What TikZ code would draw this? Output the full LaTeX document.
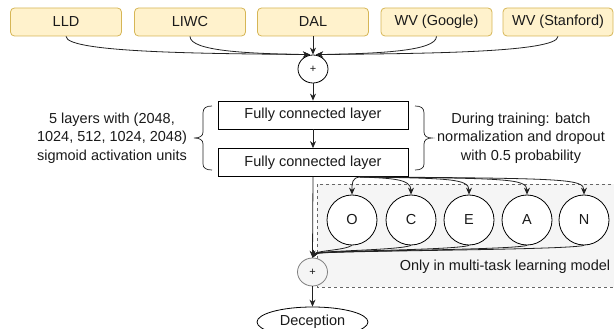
\documentclass[tikz,border=0pt]{standalone}
\usepackage{fontspec}
\setmainfont{Liberation Sans}
\usetikzlibrary{arrows.meta,shapes.geometric}
\definecolor{boxfill}{HTML}{FFF2CC}
\definecolor{boxline}{HTML}{D6B656}
\definecolor{grayfill}{HTML}{F5F5F5}
\definecolor{dashline}{HTML}{666666}
\definecolor{txt}{HTML}{1A1A1A}
\definecolor{edge}{HTML}{222222}
\begin{document}
\begin{tikzpicture}[x=1pt,y=-1pt,
  font=\fontsize{14.5}{18.5}\selectfont, text=txt,
  feat/.style={draw=boxline, fill=boxfill, rounded corners=4pt, minimum width=111pt, minimum height=28pt, inner sep=0pt, line width=0.8pt},
  layer/.style={draw=black, fill=white, minimum width=190pt, minimum height=28pt, inner sep=0pt, line width=0.8pt},
  sumnode/.style={ellipse, draw=black, fill=white, minimum width=30pt, minimum height=28pt, inner sep=0pt, line width=0.8pt, font=\fontsize{11}{13}\selectfont},
  trait/.style={circle, draw=black, fill=white, minimum size=50pt, inner sep=0pt, line width=0.8pt},
  arr/.style={draw=edge, line width=0.8pt, -{Stealth[length=7pt,width=6pt]}},
  bracket/.style={draw=edge, line width=0.7pt},
  region/.style={draw=dashline, fill=grayfill, dash pattern=on 3pt off 3pt, line width=0.6pt}]
\useasboundingbox (0,0) rectangle (614,329);
\clip (0,0) rectangle (614,329);

% multi-task region
\draw[region] (317,184) rectangle (622,287);

% feature boxes
\node[feat] (lld) at (66,22) {LLD};
\node[feat] (liwc) at (190,22) {LIWC};
\node[feat] (dal) at (313,22) {DAL};
\node[feat] (wvg) at (436.5,22) {WV (Google)};
\node[feat, minimum width=110pt] (wvs) at (558,22) {WV (Stanford)};

\node[sumnode] (plus1) at (313,69) {+};
\node[layer] (fc1) at (313,115) {Fully connected layer};
\node[layer] (fc2) at (313,162.5) {Fully connected layer};

\node[align=center] (ltxt) at (112,138) {5 layers with (2048,\\1024, 512, 1024, 2048)\\sigmoid activation units};
\node[align=center] (rtxt) at (521,138) {During training: batch\\normalization and dropout\\with 0.5 probability};

% braces
\draw[bracket] (212,106) .. controls (206,106) and (203,108) .. (203,113) -- (203,132)
  .. controls (203,136) and (200,138) .. (194,138)
  .. controls (200,138) and (203,140) .. (203,144) -- (203,164)
  .. controls (203,168) and (206,170) .. (212,170);
\draw[bracket] (415,106) .. controls (421,106) and (424,108) .. (424,113) -- (424,132)
  .. controls (424,136) and (427,138) .. (432,138)
  .. controls (427,138) and (424,140) .. (424,144) -- (424,164)
  .. controls (424,168) and (421,170) .. (415,170);

% trait nodes
\node[trait] (o) at (352,220) {O};
\node[trait] (c) at (411,220) {C};
\node[trait] (e) at (469,220) {E};
\node[trait] (a) at (527,220) {A};
\node[trait] (n) at (584,220) {N};

\node[sumnode, draw=gray, fill=grayfill] (plus2) at (312.5,272) {+};
\node (mtl) at (505,267) {Only in multi-task learning model};
\node[ellipse, draw=black, fill=white, minimum width=111pt, minimum height=30pt, inner sep=0pt, line width=0.8pt] (dec) at (312.5,322) {Deception};

% top connectors
\coordinate (inl) at ([xshift=-3pt]plus1.north);
\coordinate (inr) at ([xshift=3pt]plus1.north);
\draw[arr] (lld.south) .. controls +(0,17) and +(-90,-1) .. (inl);
\draw[arr] (liwc.south) .. controls +(0,15) and +(-60,-1) .. (inl);
\draw[arr] (dal.south) -- (plus1.north);
\draw[arr] (wvg.south) .. controls +(0,15) and +(60,-1) .. (inr);
\draw[arr] (wvs.south) .. controls +(0,17) and +(90,-1) .. (inr);

\draw[arr] (plus1.south) -- (fc1.north);
\draw[arr] (fc1.south) -- (fc2.north);
\draw[arr] (fc2.south) -- (plus2.north);

% to traits
\coordinate (src) at ([xshift=47pt]fc2.south);
\draw[arr] (src) .. controls +(-8,1) and +(0,-12) .. (o.north);
\draw[arr] (src) .. controls +(31,1.5) and +(0,-16) .. (c.north);
\draw[arr] (src) .. controls +(89,1.5) and +(0,-16) .. (e.north);
\draw[arr] (src) .. controls +(147,1.5) and +(0,-16) .. (a.north);
\draw[arr] (src) .. controls +(204,1.5) and +(0,-16) .. (n.north);

% from traits
\draw[arr] (o.south) .. controls +(-8,5) and +(4,-7) .. (plus2.north);
\draw[arr] (c.south) .. controls +(-12,5) and +(4,-7) .. (plus2.north);
\draw[arr] (e.south) .. controls +(-15,5) and +(4,-7) .. (plus2.north);
\draw[arr] (a.south) .. controls +(-18,5) and +(4,-7) .. (plus2.north);
\draw[arr] (n.south) .. controls +(-20,5) and +(4,-7) .. (plus2.north);

\draw[arr] (plus2.south) -- (dec.north);
\end{tikzpicture}
\end{document}
